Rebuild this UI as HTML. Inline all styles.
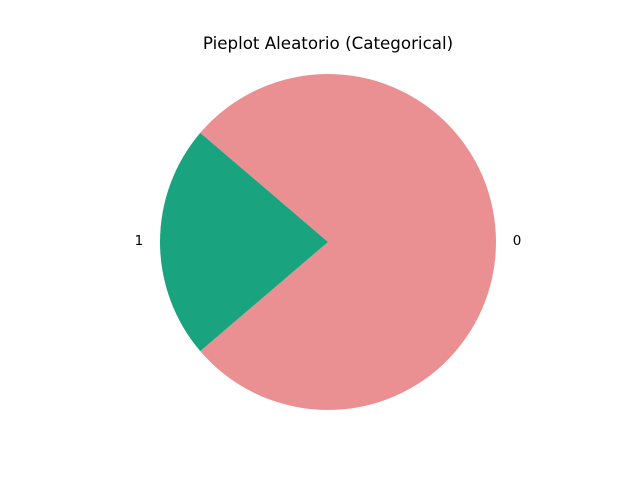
<!DOCTYPE html>
<html>
<head>
<meta charset="utf-8">
<style>
html,body{margin:0;padding:0;background:#fff;}
svg{display:block;font-family:"DejaVu Sans","Liberation Sans",sans-serif;}
</style>
</head>
<body>
<svg id="chart" width="640" height="480" viewBox="0 0 640 480">
  <rect width="640" height="480" fill="#fff"/>
  <text x="328" y="49" text-anchor="middle" font-size="16.7" fill="#000">Pieplot Aleatorio (Categorical)</text>
  <g id="slices"></g>
  <g id="labels"></g>
</svg>
<script>
const categories = ["0", "1"];
const values = [31, 9];
const colors = ["#EA9092", "#1AA37F"];
const startAngle = -139.5;

const cx = 328, cy = 242, r = 168;
const NS = "http://www.w3.org/2000/svg";
const total = values.reduce((a, b) => a + b, 0);
const gS = document.getElementById("slices");
const gL = document.getElementById("labels");
let a = startAngle;
function pt(deg, rad) {
  const t = deg * Math.PI / 180;
  return [cx + rad * Math.cos(t), cy - rad * Math.sin(t)];
}
values.forEach((v, i) => {
  const span = v / total * 360;
  const a0 = a, a1 = a + span;
  const p0 = pt(a0, r), p1 = pt(a1, r);
  const large = span > 180 ? 1 : 0;
  const path = document.createElementNS(NS, "path");
  path.setAttribute("d", `M${cx},${cy} L${p0[0]},${p0[1]} A${r},${r} 0 ${large} 0 ${p1[0]},${p1[1]} Z`);
  path.setAttribute("fill", colors[i % colors.length]);
  
  
  gS.appendChild(path);
  const mid = (a0 + a1) / 2;
  const lp = pt(mid, r * 1.1);
  const cosm = Math.cos(mid * Math.PI / 180);
  const txt = document.createElementNS(NS, "text");
  txt.setAttribute("x", lp[0]);
  txt.setAttribute("y", lp[1] + 3);
  txt.setAttribute("text-anchor", cosm >= 0 ? "start" : "end");
  txt.setAttribute("font-size", "13.5");
  txt.textContent = categories[i];
  
  
  gL.appendChild(txt);
  a = a1;
});
</script>
</body>
</html>
